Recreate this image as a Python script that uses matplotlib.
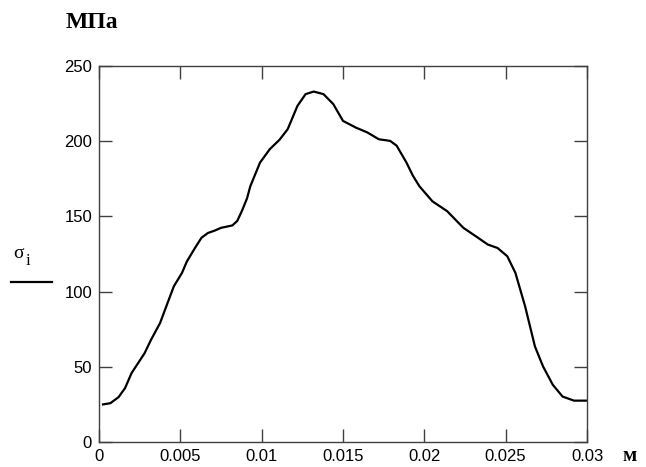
#!/usr/bin/env python3
# Mathcad-style stress profile plot
import matplotlib
matplotlib.use("Agg")
import matplotlib.pyplot as plt

# distance along the part, m
x_m = [0.00025, 0.0007, 0.0012, 0.0016, 0.002, 0.0024, 0.0028, 0.0032, 0.00375,
       0.0042, 0.0046, 0.0051, 0.0054, 0.0059, 0.0063, 0.0067, 0.0071, 0.0075,
       0.0082, 0.0085, 0.0088, 0.0091, 0.0093, 0.0099, 0.0105, 0.0111, 0.0116,
       0.0122, 0.0127, 0.0132, 0.0138, 0.0144, 0.0150, 0.0158, 0.0165, 0.0172,
       0.0179, 0.0183, 0.0189, 0.0193, 0.0197, 0.0205, 0.0214, 0.0224, 0.0233,
       0.0239, 0.0245, 0.0251, 0.0256, 0.0262, 0.0268, 0.0273, 0.0279, 0.0285,
       0.0292, 0.0300]
# equivalent stress sigma_i, MPa
sigma_i = [25.0, 25.8, 29.8, 35.8, 45.8, 52.4, 59.0, 68.0, 79.0,
           92.0, 103.5, 112.4, 120.0, 129.0, 135.8, 139.0, 140.5, 142.4,
           144.0, 147.0, 154.0, 162.0, 170.0, 185.8, 194.7, 201.0, 208.0,
           223.5, 231.3, 233.0, 231.3, 224.7, 213.5, 209.0, 205.8, 201.3,
           200.2, 197.0, 185.8, 177.0, 170.0, 160.0, 153.5, 142.4, 135.8,
           131.3, 129.0, 123.5, 112.4, 90.0, 63.5, 50.2, 38.0, 30.2,
           27.5, 27.5]

x_ticks = [0, 0.005, 0.01, 0.015, 0.02, 0.025, 0.03]
x_labels = ["0", "0.005", "0.01", "0.015", "0.02", "0.025", "0.03"]
y_ticks = [0, 50, 100, 150, 200, 250]

W, H = 646, 467
fig = plt.figure(figsize=(W / 100, H / 100), dpi=100)

def fx(px):
    return px / W

def fy(py):
    return 1 - py / H

ax = fig.add_axes([fx(99), fy(442), fx(587) - fx(99), fy(66) - fy(442)])
ax.plot(x_m, sigma_i, color="black", lw=1.6, solid_joinstyle="round")
ax.set_xlim(0, 0.03)
ax.set_ylim(0, 250)

ax.set_xticks(x_ticks)
ax.set_xticklabels(x_labels)
ax.set_yticks(y_ticks)
ax.tick_params(direction="in", length=9.5, width=1.0, color="#404040",
               top=True, right=True, labelsize=12, pad=5)
for lab in ax.get_xticklabels() + ax.get_yticklabels():
    lab.set_fontfamily("Liberation Sans")
for sp in ax.spines.values():
    sp.set_color("#404040")
    sp.set_linewidth(1.0)

# units and trace label
fig.text(fx(92), fy(22), "МПа", family="Liberation Serif", weight="bold",
         fontsize=17, ha="center", va="center")
fig.text(fx(630), fy(456), "м", family="Liberation Serif", weight="bold",
         fontsize=15, ha="center", va="center")
fig.text(fx(19), fy(254), "σ", family="Liberation Serif",
         fontsize=14, ha="center", va="center")
fig.text(fx(27.5), fy(261), "i", family="Liberation Serif",
         fontsize=12, ha="center", va="center")
fig.add_artist(plt.Line2D([fx(11), fx(52)], [fy(282), fy(282)], color="black", lw=1.6))

fig.savefig("out.png", dpi=100)
